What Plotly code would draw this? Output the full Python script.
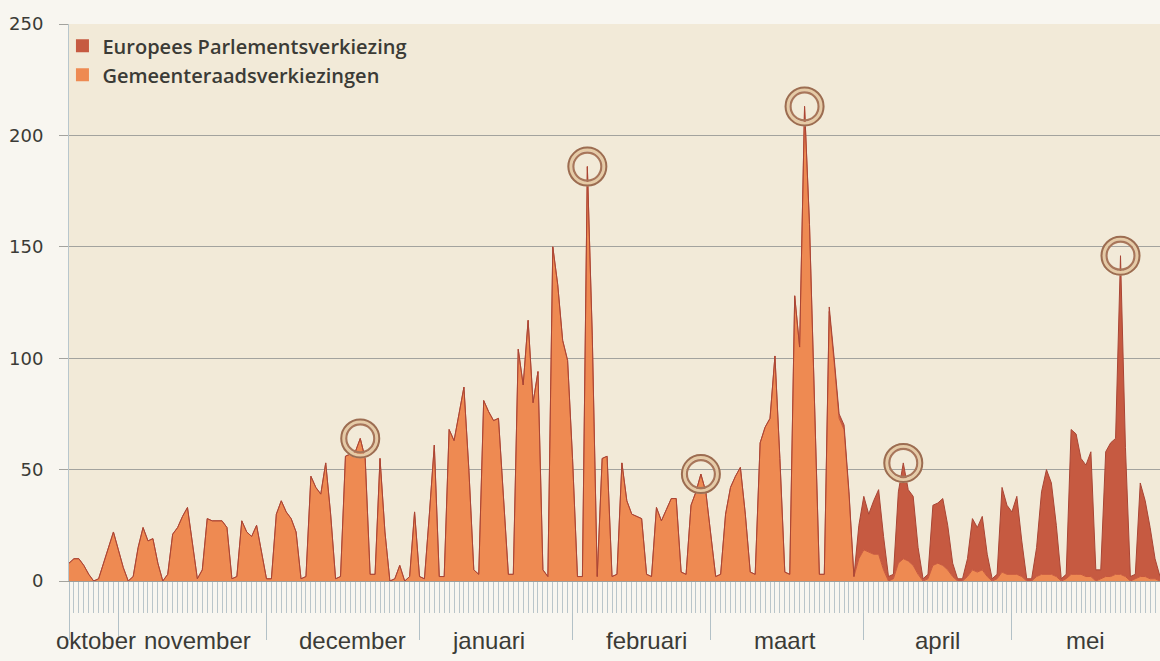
import pandas as pd
import plotly.graph_objects as go

# daily dates (Sundays have no newspapers -> ~0)
dates = pd.date_range("2013-10-22", "2014-05-31", freq="D")

# Gemeenteraadsverkiezingen (daily counts), one line per week (Mon..Sun)
gemeente = [
    8, 10, 10, 7, 3, 0,
    1, 8, 15, 22, 14, 6, 0,
    2, 15, 24, 18, 19, 8, 0,
    3, 21, 24, 29, 33, 16, 1,
    5, 28, 27, 27, 27, 24, 1,
    2, 27, 22, 20, 25, 12, 1,
    1, 30, 36, 31, 28, 22, 1,
    2, 47, 42, 39, 53, 30, 1,
    2, 56, 57, 58, 64, 55, 3,
    3, 55, 22, 0, 1, 7, 0,
    2, 31, 2, 1, 30, 61, 2,
    2, 68, 63, 75, 87, 50, 5,
    3, 81, 76, 72, 73, 40, 3,
    3, 104, 88, 117, 80, 94, 5,
    2, 150, 133, 108, 99, 55, 2,
    2, 186, 110, 2, 55, 56, 2,
    3, 53, 36, 30, 29, 28, 3,
    2, 33, 27, 32, 37, 37, 4,
    3, 34, 40, 48, 40, 20, 2,
    3, 30, 42, 47, 51, 30, 4,
    3, 62, 69, 73, 101, 55, 4,
    3, 128, 105, 213, 160, 85, 3,
    3, 121, 98, 73, 68, 39, 2,
    10, 14, 13, 12, 12, 5, 0,
    1, 8, 10, 9, 7, 3, 0,
    1, 7, 8, 7, 5, 2, 0,
    0, 2, 5, 4, 5, 2, 0,
    1, 4, 3, 3, 3, 2, 0,
    0, 2, 3, 3, 3, 2, 0,
    1, 3, 3, 3, 2, 2, 0,
    1, 2, 2, 3, 3, 2, 0,
    1, 2, 2, 1, 1, 0,
]

# Europees Parlementsverkiezing (daily counts)
europees = [
    0, 0, 0, 0, 0, 0,
    0, 0, 0, 0, 0, 0, 0,
    0, 0, 0, 0, 0, 0, 0,
    0, 0, 0, 0, 0, 0, 0,
    0, 0, 0, 0, 0, 0, 0,
    0, 0, 0, 0, 0, 0, 0,
    0, 0, 0, 0, 0, 0, 0,
    0, 0, 0, 0, 0, 0, 0,
    0, 0, 0, 0, 0, 0, 0,
    0, 0, 0, 0, 0, 0, 0,
    0, 0, 0, 0, 0, 0, 0,
    0, 0, 0, 0, 0, 0, 0,
    0, 0, 0, 0, 0, 0, 0,
    0, 0, 0, 0, 0, 0, 0,
    0, 0, 0, 0, 0, 0, 0,
    0, 0, 0, 0, 0, 0, 0,
    0, 0, 0, 0, 0, 0, 0,
    0, 0, 0, 0, 0, 0, 0,
    0, 0, 0, 0, 0, 0, 0,
    0, 0, 0, 0, 0, 0, 0,
    0, 0, 0, 0, 0, 0, 0,
    0, 0, 0, 0, 0, 0, 0,
    0, 2, 2, 2, 2, 1, 0,
    15, 24, 17, 24, 29, 15, 2,
    2, 32, 43, 32, 31, 12, 1,
    2, 27, 27, 30, 20, 6, 1,
    1, 8, 23, 20, 24, 10, 1,
    2, 38, 31, 28, 35, 16, 1,
    1, 13, 37, 47, 41, 23, 1,
    2, 65, 63, 52, 50, 56, 5,
    4, 56, 60, 61, 143, 58, 2,
    2, 42, 34, 23, 9, 2,
]

series_names = ["Europees Parlementsverkiezing", "Gemeenteraadsverkiezingen"]
month_labels = ["oktober", "november", "december", "januari",
                "februari", "maart", "april", "mei"]
month_label_dates = ["2013-10-27 12:00", "2013-11-17", "2013-12-18 12:00", "2014-01-15",
                     "2014-02-16", "2014-03-16", "2014-04-16", "2014-05-16"]
month_ticks = ["2013-10-22", "2013-11-01", "2013-12-01", "2014-01-01",
               "2014-02-01", "2014-03-01", "2014-04-01", "2014-05-01"]
highlight_dates = ["2013-12-20", "2014-02-04", "2014-02-27",
                   "2014-03-20", "2014-04-09", "2014-05-23"]
y_ticks = [0, 50, 100, 150, 200, 250]

ORANGE = "#ee8a52"
ORANGE_LINE = "#c9583c"
RED = "#c65a41"
RED_LINE = "#a94535"
TEXT = "#3b3b36"

fig = go.Figure()
fig.add_trace(go.Scatter(x=dates, y=gemeente, stackgroup="one", mode="lines",
                         line=dict(color=ORANGE_LINE, width=1),
                         fillcolor=ORANGE, showlegend=False, hoverinfo="skip"))
fig.add_trace(go.Scatter(x=dates, y=europees, stackgroup="one", mode="lines",
                         line=dict(color=RED_LINE, width=1),
                         fillcolor=RED, showlegend=False, hoverinfo="skip"))

# legend entries (square swatches)
fig.add_trace(go.Scatter(x=[None], y=[None], mode="markers", name=series_names[0],
                         marker=dict(symbol="square", size=13, color=RED)))
fig.add_trace(go.Scatter(x=[None], y=[None], mode="markers", name=series_names[1],
                         marker=dict(symbol="square", size=13, color=ORANGE)))

# highlighted peaks
total = [g + e for g, e in zip(gemeente, europees)]
date_index = {d.strftime("%Y-%m-%d"): i for i, d in enumerate(dates)}
hx = [pd.Timestamp(d) for d in highlight_dates]
hy = [total[date_index[d]] for d in highlight_dates]
for size, width, color in [(35, 4.5, "#e6cba6"), (38, 2, "#9c6d52"), (28, 2.2, "#a8765a")]:
    fig.add_trace(go.Scatter(x=hx, y=hy, mode="markers", showlegend=False, hoverinfo="skip",
                             marker=dict(symbol="circle-open", size=size,
                                         line=dict(width=width, color=color),
                                         color=color)))

for lab, d in zip(month_labels, month_label_dates):
    fig.add_annotation(x=d, y=-0.106, xref="x", yref="paper", text=lab,
                       showarrow=False, yanchor="middle", xanchor="center",
                       font=dict(family="Liberation Sans", size=24, color=TEXT))

fig.update_layout(
    width=1160, height=661,
    margin=dict(l=69, r=0, t=24, b=80),
    paper_bgcolor="#f8f6f0",
    plot_bgcolor="#f2ead8",
    font=dict(family="DejaVu Sans", color=TEXT),
    legend=dict(x=-0.006, y=0.996, xanchor="left", yanchor="top",
                traceorder="normal",
                bgcolor="rgba(0,0,0,0)", tracegroupgap=0,
                font=dict(family="Open Sans", size=20, color=TEXT, weight=600)),
)
fig.update_xaxes(
    type="date", range=["2013-10-22", "2014-05-31"],
    tickmode="array", tickvals=month_ticks, showticklabels=False,
    ticks="outside", ticklen=58, tickcolor="#b3c1c7", tickwidth=1,
    minor=dict(tickmode="linear", tick0="2013-10-22", dtick=86400000,
               ticks="outside", ticklen=31, tickcolor="#b9c5ca", tickwidth=1, showgrid=False),
    showgrid=False, showline=True, linecolor="#9d9d98", linewidth=1,
    zeroline=False,
)
fig.update_yaxes(
    range=[0, 250], tickvals=y_ticks, ticks="outside", ticklen=9,
    tickcolor="#a3a39e", ticklabelstandoff=12,
    tickfont=dict(family="DejaVu Sans", size=18, color=TEXT),
    showgrid=True, gridcolor="#a3a39e", gridwidth=1,
    showline=True, linecolor="#b8c6cc", zeroline=False,
)

fig.write_html("out.html", config={"displayModeBar": False},
               post_script="document.body.style.margin='0';")
